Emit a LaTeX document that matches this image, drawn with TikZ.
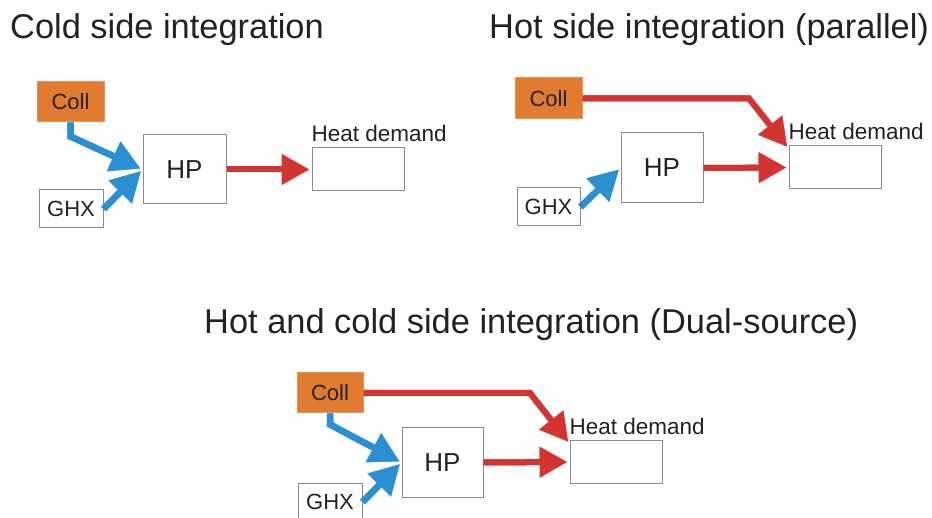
\documentclass[tikz,border=0pt]{standalone}
\usepackage{fontspec}
\setmainfont{Liberation Sans}
\usetikzlibrary{arrows.meta}
\definecolor{collor}{HTML}{E07B30}
\definecolor{arrblue}{HTML}{2A90D2}
\definecolor{arrred}{HTML}{D23530}
\definecolor{txt}{HTML}{222222}
\definecolor{edge}{HTML}{8A8A8A}
\tikzset{
  box/.style={draw=edge, line width=1pt, fill=white, inner sep=0pt, text=txt},
  collbox/.style={box, draw=collor!80!white, fill=collor},
  boxtxt/.style={font=\fontsize{22}{26}\selectfont},
  hptxt/.style={font=\fontsize{26}{30}\selectfont},
  title/.style={anchor=base west, inner sep=0pt, text=txt, font=\fontsize{34.4}{40}\selectfont},
  lbl/.style={anchor=base west, inner sep=0pt, text=txt, font=\fontsize{22.5}{26}\selectfont},
  bluearr/.style={draw=arrblue, line width=6.5pt, line join=miter,
    -{Triangle[length=33pt,width=37pt,line width=1pt,color=white,fill=arrblue]},
    postaction={draw=arrblue, line width=6.5pt, -, shorten >=24pt}},
  redarr/.style={draw=arrred, line width=6pt, line join=miter,
    -{Triangle[length=31pt,width=35pt,line width=1pt,color=white,fill=arrred]},
    postaction={draw=arrred, line width=6pt, -, shorten >=24pt}},
}
\begin{document}
\begin{tikzpicture}[x=1pt,y=-1pt]
\useasboundingbox (0,0) rectangle (932,518);
% titles
\node[title] (t1) at (10,39) {Cold side integration};
\node[title] (t2) at (489,39) {Hot side integration (parallel)};
\node[title] (t3) at (204,334) {Hot and cold side integration (Dual-source)};

% ---------- diagram 1 ----------
\node[collbox, boxtxt, minimum width=67pt, minimum height=40pt] (coll1) at (70.5,102) {Coll};
\node[box, boxtxt, minimum width=64pt, minimum height=38pt] (ghx1) at (71,209) {GHX};
\node[box, hptxt, minimum width=83pt, minimum height=69pt] (hp1) at (184.5,169.5) {HP};
\node[box, minimum width=92pt, minimum height=43pt] (hd1) at (358,169.5) {};
\node[lbl] (hdl1) at ([yshift=6pt]hd1.north west) {Heat demand};
\draw[bluearr] (coll1.south) -- ++(0,14) -- (hp1.west);
\draw[bluearr] (ghx1.east) -- (hp1.west);
\draw[redarr] (hp1.east) -- (hd1.west);

% ---------- diagram 2 ----------
\node[collbox, boxtxt, minimum width=67pt, minimum height=41pt] (coll2) at (548.5,98.5) {Coll};
\node[box, boxtxt, minimum width=63pt, minimum height=38pt] (ghx2) at (548.5,207) {GHX};
\node[box, hptxt, minimum width=82pt, minimum height=70pt] (hp2) at (662,168) {HP};
\node[box, minimum width=92pt, minimum height=43pt] (hd2) at (835,167.5) {};
\node[lbl] (hdl2) at ([yshift=6pt]hd2.north west) {Heat demand};
\coordinate (b2) at (749,98.5);
\draw[bluearr] (ghx2.east) -- (hp2.west);
\draw[redarr] (hp2.east) -- (hd2.west);
\draw[redarr] (coll2.east) -- (b2) -- ([yshift=-3pt]hd2.north west);

% ---------- diagram 3 ----------
\node[collbox, boxtxt, minimum width=66pt, minimum height=40pt] (coll3) at (330,393) {Coll};
\node[box, boxtxt, minimum width=64pt, minimum height=38pt] (ghx3) at (330,502) {GHX};
\node[box, hptxt, minimum width=81pt, minimum height=69pt] (hp3) at (442.5,462.5) {HP};
\node[box, minimum width=92pt, minimum height=42pt] (hd3) at (616,462) {};
\node[lbl] (hdl3) at ([yshift=6pt]hd3.north west) {Heat demand};
\coordinate (b3) at (530,393);
\draw[bluearr] (coll3.south) -- ++(0,11) -- (hp3.west);
\draw[bluearr] (ghx3.east) -- (hp3.west);
\draw[redarr] (hp3.east) -- (hd3.west);
\draw[redarr] (coll3.east) -- (b3) -- ([yshift=-3pt]hd3.north west);
\end{tikzpicture}
\end{document}
